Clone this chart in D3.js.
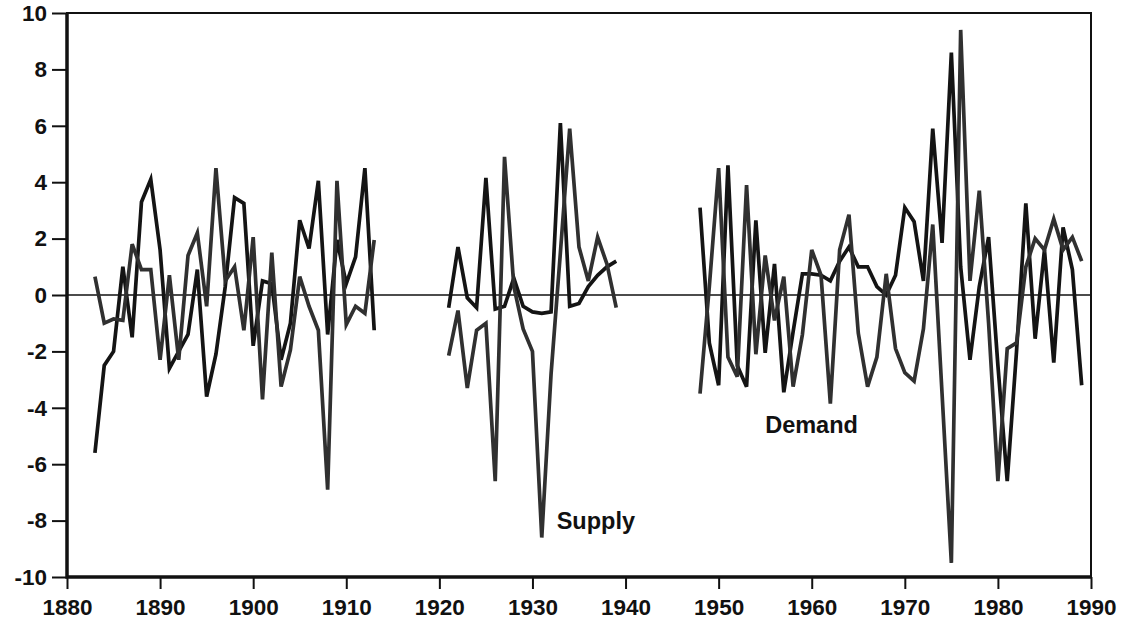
<!DOCTYPE html>
<html>
<head>
<meta charset="utf-8">
<script src="https://cdn.jsdelivr.net/npm/d3@7"></script>
<style>
    body { margin: 0; background: #fff; }
    #chart { width: 1123px; height: 628px; }
    #chart text { font-family: "Liberation Sans", Arial, Helvetica, sans-serif; }
</style>
</head>
<body>
<div id="chart"></div>
<script>
// years covered by each stretch of data (gaps for the war years)
const periods = [[1883, 1913], [1921, 1939], [1948, 1989]];

const supply1883 = [0.65, -1.0, -0.85, -0.9, 1.8, 0.9, 0.9, -2.3, 0.7, -2.3, 1.4, 2.2, -0.4, 4.5, 0.5, 1.0,
    -1.25, 2.05, -3.7, 1.5, -3.25, -1.95, 0.65, -0.4, -1.25, -6.9, 4.05, -1.05, -0.4, -0.65, 1.95];
const supply1921 = [-2.15, -0.55, -3.3, -1.25, -1.0, -6.6, 4.9, 0.3, -1.2, -2.0, -8.6, -2.8, 1.5, 5.9,
    1.7, 0.5, 2.05, 1.1, -0.45];
const supply1948 = [-3.5, 0.3, 4.5, -2.2, -2.9, 3.9, -2.1, 1.4, -0.9, 0.65, -3.25, -1.4, 1.6, 0.7, -3.85,
    1.6, 2.85, -1.35, -3.25, -2.2, 0.75, -1.9, -2.75, -3.05, -1.2, 2.5, -3.5, -9.5, 9.4, 0.5, 3.7, -1.0,
    -6.6, -1.9, -1.7, 1.0, 2.0, 1.6, 2.7, 1.6, 2.05, 1.2];

const demand1883 = [-5.6, -2.5, -2.0, 1.0, -1.5, 3.3, 4.1, 1.6, -2.6, -2.0, -1.4, 0.9, -3.6, -2.1, 0.3, 3.45,
    3.25, -1.8, 0.5, 0.4, -2.3, -1.0, 2.65, 1.65, 4.05, -1.4, 1.95, 0.4, 1.35, 4.5, -1.25];
const demand1921 = [-0.45, 1.7, -0.1, -0.45, 4.15, -0.5, -0.4, 0.6, -0.4, -0.6, -0.65, -0.6, 6.1, -0.4,
    -0.3, 0.3, 0.7, 1.0, 1.2];
const demand1948 = [3.1, -1.7, -3.2, 4.6, -2.5, -3.25, 2.65, -2.05, 1.1, -3.45, -1.3, 0.75, 0.75, 0.7, 0.5,
    1.2, 1.7, 1.0, 1.0, 0.3, 0.0, 0.7, 3.1, 2.6, 0.5, 5.9, 1.85, 8.6, 1.0, -2.3, 0.3, 2.05, -2.5, -6.6,
    -2.0, 3.25, -1.55, 1.6, -2.4, 2.4, 0.9, -3.2];

const xTicks = [1880, 1890, 1900, 1910, 1920, 1930, 1940, 1950, 1960, 1970, 1980, 1990];
const yTicks = [-10, -8, -6, -4, -2, 0, 2, 4, 6, 8, 10];

const seriesLabels = [
    { name: 'Supply', year: 1932.6, value: -8.3 },
    { name: 'Demand', year: 1955.0, value: -4.9 }
];

class ShockChart {
    constructor(containerId) {
        this.containerId = containerId;
        this.margin = { top: 13, right: 32, bottom: 51, left: 67 };
        this.width = 1123 - this.margin.left - this.margin.right;
        this.height = 628 - this.margin.top - this.margin.bottom;
        this.svg = null;
    }

    init() {
        this.setupScales();
        this.setupSVG();
        this.drawAxes();
        this.drawLines();
        this.drawLabels();
    }

    setupScales() {
        this.x = d3.scaleLinear().domain([1880, 1990]).range([0, this.width]);
        this.y = d3.scaleLinear().domain([-10, 10]).range([this.height, 0]);
    }

    setupSVG() {
        this.svg = d3.select(`#${this.containerId}`)
            .append('svg')
            .attr('width', 1123)
            .attr('height', 628)
            .append('g')
            .attr('transform', `translate(${this.margin.left},${this.margin.top})`);
    }

    drawAxes() {
        const yAxis = d3.axisLeft(this.y)
            .tickValues(yTicks)
            .tickFormat(d => String(d))
            .tickSize(15)
            .tickSizeOuter(0)
            .tickPadding(5);

        const xAxis = d3.axisBottom(this.x)
            .tickValues(xTicks)
            .tickFormat(d => String(d))
            .tickSize(12)
            .tickSizeOuter(0)
            .tickPadding(10);

        const gy = this.svg.append('g').attr('class', 'y-axis').call(yAxis);
        const gx = this.svg.append('g').attr('class', 'x-axis')
            .attr('transform', `translate(0,${this.height})`)
            .call(xAxis);

        [gx, gy].forEach(g => {
            g.select('.domain').remove();
            g.selectAll('line').attr('stroke', '#111').attr('stroke-width', 2);
            g.selectAll('text')
                .attr('fill', '#111')
                .style('font-size', '22.5px')
                .style('font-weight', 'bold');
        });

        // zero line
        this.svg.append('line')
            .attr('x1', 0)
            .attr('x2', this.width)
            .attr('y1', this.y(0))
            .attr('y2', this.y(0))
            .attr('stroke', '#111')
            .attr('stroke-width', 1.5);

        // frame
        this.svg.append('rect')
            .attr('width', this.width)
            .attr('height', this.height)
            .attr('fill', 'none')
            .attr('stroke', '#111')
            .attr('stroke-width', 2);
        this.svg.append('path')
            .attr('d', `M0,0V${this.height}H${this.width}`)
            .attr('fill', 'none')
            .attr('stroke', '#111')
            .attr('stroke-width', 3.5);
    }

    drawLines() {
        const line = d3.line()
            .x(d => this.x(d.year))
            .y(d => this.y(d.value));

        const toPoints = (start, values) => values.map((v, i) => ({ year: start + i, value: v }));

        const supply = [supply1883, supply1921, supply1948].map((v, i) => toPoints(periods[i][0], v));
        const demand = [demand1883, demand1921, demand1948].map((v, i) => toPoints(periods[i][0], v));

        this.svg.selectAll('.demand')
            .data(demand)
            .enter()
            .append('path')
            .attr('class', 'demand')
            .attr('d', line)
            .attr('fill', 'none')
            .attr('stroke', '#141414')
            .attr('stroke-width', 3.7)
            .attr('stroke-linejoin', 'miter');

        this.svg.selectAll('.supply')
            .data(supply)
            .enter()
            .append('path')
            .attr('class', 'supply')
            .attr('d', line)
            .attr('fill', 'none')
            .attr('stroke', '#303030')
            .attr('stroke-width', 3.7)
            .attr('stroke-linejoin', 'miter');
    }

    drawLabels() {
        this.svg.selectAll('.series-label')
            .data(seriesLabels)
            .enter()
            .append('text')
            .attr('class', 'series-label')
            .attr('x', d => this.x(d.year))
            .attr('y', d => this.y(d.value))
            .attr('fill', '#111')
            .style('font-size', '23.5px')
            .style('font-weight', 'bold')
            .text(d => d.name);
    }
}

const chart = new ShockChart('chart');
chart.init();
</script>
</body>
</html>
